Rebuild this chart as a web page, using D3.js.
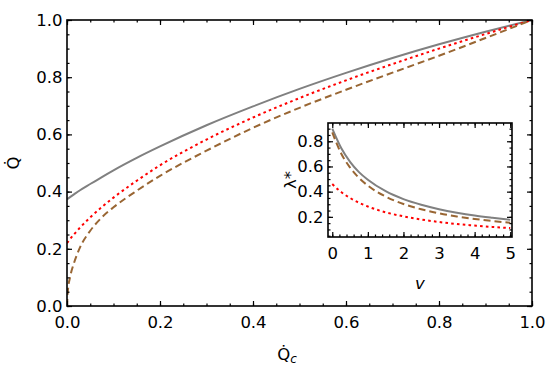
<!DOCTYPE html>
<html>
<head>
<meta charset="utf-8">
<script src="https://cdn.jsdelivr.net/npm/d3@7"></script>
<style>
  body { margin: 0; background: #fff; }
  svg text { font-family: 'DejaVu Sans', sans-serif; fill: #000; }
</style>
</head>
<body>
<div id="svg-container"></div>
<script>
// main plot: Qdot vs Qdot_c
const qcValues = [0, 0.002, 0.0065, 0.015, 0.028, 0.05, 0.075, 0.1, 0.15, 0.2, 0.3, 0.4, 0.5, 0.6, 0.7, 0.8, 0.9, 1.0];
const qGray = [0.373, 0.3753, 0.3805, 0.3902, 0.4048, 0.4266, 0.451, 0.4745, 0.518, 0.558, 0.632, 0.698, 0.759, 0.815, 0.867, 0.915, 0.959, 1.0];
const qRed = [0.22, 0.2243, 0.2337, 0.2504, 0.274, 0.3098, 0.346, 0.379, 0.438, 0.492, 0.582, 0.659, 0.727, 0.789, 0.846, 0.9, 0.951, 1.0];
const qBrown = [0, 0.055, 0.1, 0.15, 0.205, 0.263, 0.31, 0.345, 0.403, 0.455, 0.543, 0.623, 0.693, 0.756, 0.816, 0.875, 0.937, 1.0];
const mainTicks = [0, 0.2, 0.4, 0.6, 0.8, 1.0];

// inset: lambda* vs v
const vValues = [0, 0.25, 0.5, 0.75, 1, 1.5, 2, 2.5, 3, 3.5, 4, 4.5, 5];
const lamGray = [0.9, 0.746, 0.637, 0.555, 0.495, 0.404, 0.341, 0.296, 0.261, 0.233, 0.21, 0.192, 0.176];
const lamBrown = [0.87, 0.703, 0.591, 0.509, 0.448, 0.361, 0.302, 0.26, 0.228, 0.203, 0.183, 0.167, 0.153];
const lamRed = [0.46, 0.397, 0.35, 0.312, 0.282, 0.236, 0.204, 0.179, 0.159, 0.143, 0.131, 0.12, 0.111];
const insetXTicks = [0, 1, 2, 3, 4, 5];
const insetYTicks = [0.2, 0.4, 0.6, 0.8];

const WIDTH = 550;
const HEIGHT = 370;
const FONT = 16.5;

const styles = [
  { color: '#808080', dash: null },
  { color: '#ff0000', dash: '2.6,3.2' },
  { color: '#996633', dash: '7,4' },
];

const svg = d3.create('svg').attr('width', WIDTH).attr('height', HEIGHT);

const drawFrame = (xScale, yScale, opts) => {
  const [x0, x1] = xScale.range();
  const [y0, y1] = yScale.range();
  const g = svg.append('g');

  const axes = [
    { axis: d3.axisBottom, pos: `translate(0,${y0})`, scale: xScale, labels: true },
    { axis: d3.axisTop, pos: `translate(0,${y1})`, scale: xScale, labels: false },
    { axis: d3.axisLeft, pos: `translate(${x0},0)`, scale: yScale, labels: true },
    { axis: d3.axisRight, pos: `translate(${x1},0)`, scale: yScale, labels: false },
  ];

  axes.forEach((a) => {
    const isX = a.scale === xScale;
    const major = isX ? opts.xTicks : opts.yTicks;
    const minor = isX ? opts.xMinor : opts.yMinor;

    g.append('g')
      .attr('transform', a.pos)
      .call(a.axis(a.scale).tickValues(minor).tickSize(-2.5).tickFormat(''))
      .call((s) => s.select('.domain').remove());

    g.append('g')
      .attr('transform', a.pos)
      .call(
        a.axis(a.scale)
          .tickValues(major)
          .tickSize(-5)
          .tickPadding(isX ? opts.xPad : opts.yPad)
          .tickFormat(a.labels ? (isX ? opts.xFormat : opts.yFormat) : '')
      )
      .call((s) => s.select('.domain').remove())
      .call((s) => s.selectAll('text').attr('font-size', FONT).style('font-family', "'DejaVu Sans', sans-serif"));
  });

  g.selectAll('line').attr('stroke', '#000').attr('stroke-width', 1.2);

  g.append('rect')
    .attr('x', x0)
    .attr('y', y1)
    .attr('width', x1 - x0)
    .attr('height', y0 - y1)
    .attr('fill', 'none')
    .attr('stroke', '#000')
    .attr('stroke-width', 1.6);
};

const drawLines = (parent, xs, series, xScale, yScale) => {
  const line = d3
    .line()
    .x((d) => xScale(d[0]))
    .y((d) => yScale(d[1]))
    .curve(d3.curveMonotoneX);

  series.forEach((ys, i) => {
    parent
      .append('path')
      .datum(xs.map((x, j) => [x, ys[j]]))
      .attr('d', line)
      .attr('fill', 'none')
      .attr('stroke', styles[i].color)
      .attr('stroke-width', 2)
      .attr('stroke-dasharray', styles[i].dash);
  });
};

// ---- main plot
const xScale = d3.scaleLinear().domain([0, 1]).range([67, 532]);
const yScale = d3.scaleLinear().domain([0, 1]).range([306, 20]);

svg.append('defs').append('clipPath').attr('id', 'main-clip')
  .append('rect').attr('x', 67).attr('y', 20).attr('width', 465).attr('height', 286);

const mainG = svg.append('g').attr('clip-path', 'url(#main-clip)');
drawLines(mainG, qcValues, [qGray, qRed, qBrown], xScale, yScale);

drawFrame(xScale, yScale, {
  xTicks: mainTicks,
  yTicks: mainTicks,
  xMinor: d3.range(0, 1.0001, 0.05),
  yMinor: d3.range(0, 1.0001, 0.05),
  xPad: 10.5,
  yPad: 4.5,
  xFormat: d3.format('.1f'),
  yFormat: d3.format('.1f'),
});

// main axis labels
svg.append('text')
  .attr('transform', 'translate(19,163) rotate(-90)')
  .attr('text-anchor', 'middle')
  .attr('font-size', FONT)
  .text('Q\u0307');

const xl = svg.append('text')
  .attr('x', 287)
  .attr('y', 360)
  .attr('text-anchor', 'middle')
  .attr('font-size', FONT);
xl.append('tspan').text('Q\u0307');
xl.append('tspan').attr('font-size', 12).attr('font-style', 'italic').attr('dy', 3).text('c');

// ---- inset
const insetX = d3.scaleLinear().domain([-0.12, 5.05]).range([328, 512]);
const insetY = d3.scaleLinear().domain([0.04, 0.945]).range([237, 123]);

svg.append('rect')
  .attr('x', 328).attr('y', 123).attr('width', 184).attr('height', 114)
  .attr('fill', '#fff');

drawLines(svg, vValues, [lamGray, lamRed, lamBrown], insetX, insetY);

drawFrame(insetX, insetY, {
  xTicks: insetXTicks,
  yTicks: insetYTicks,
  xMinor: d3.range(0, 5.0001, 0.2),
  yMinor: d3.range(0.05, 0.9001, 0.05),
  xPad: 10.5,
  yPad: 4.5,
  xFormat: d3.format('d'),
  yFormat: d3.format('.1f'),
});

svg.append('text')
  .attr('transform', 'translate(296,180) rotate(-90)')
  .attr('text-anchor', 'middle')
  .attr('font-size', FONT)
  .text('\u03bb*');

svg.append('text')
  .attr('x', 420)
  .attr('y', 289)
  .attr('text-anchor', 'middle')
  .attr('font-size', FONT)
  .attr('font-style', 'italic')
  .text('v');

document.getElementById('svg-container').appendChild(svg.node());
</script>
</body>
</html>
